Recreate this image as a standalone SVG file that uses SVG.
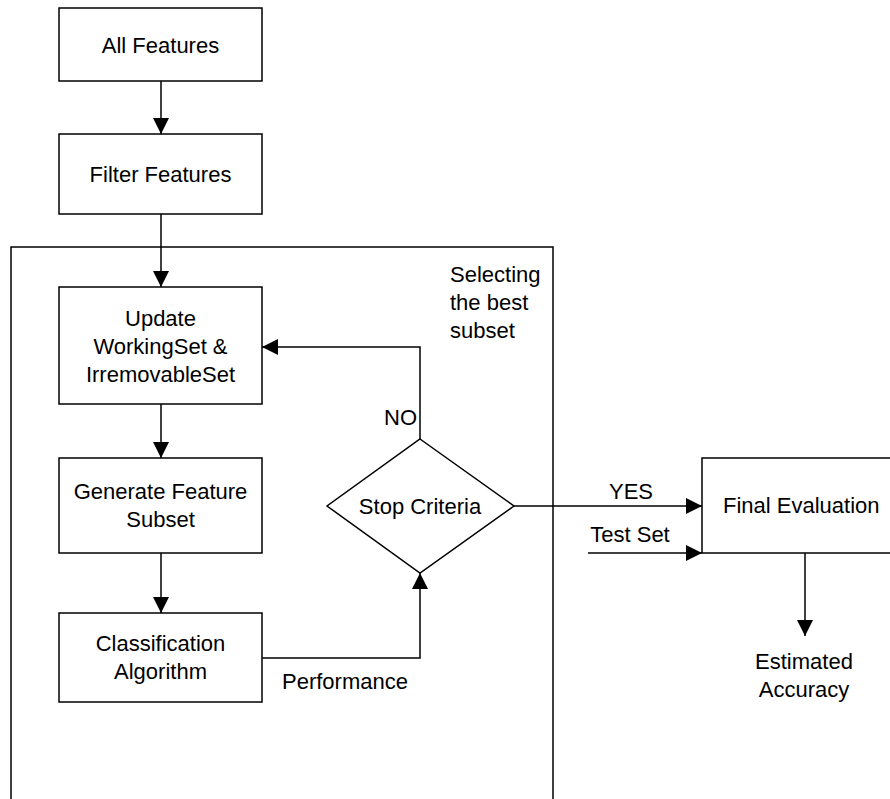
<svg xmlns="http://www.w3.org/2000/svg" width="890" height="799" viewBox="0 0 890 799">
  <style>
    .box { fill: #fff; stroke: #000; stroke-width: 1.5; }
    .frame { fill: none; stroke: #000; stroke-width: 1.5; }
    .edge { fill: none; stroke: #000; stroke-width: 1.5; }
    text { font-family: "Liberation Sans", Arial, sans-serif; font-size: 22px; fill: #000; }
    .c { text-anchor: middle; }
  </style>
  <defs>
    <marker id="arrow" markerUnits="userSpaceOnUse" markerWidth="18" markerHeight="16" refX="16" refY="8" orient="auto">
      <path d="M0,0 L16,8 L0,16 Z" fill="#000"/>
    </marker>
  </defs>
  <rect width="890" height="799" fill="#fff"/>

  <!-- loop container -->
  <g id="selection-frame">
    <path class="frame" d="M11,800 L11,247 L553,247 L553,800"/>
    <text x="450" y="282">Selecting</text>
    <text x="450" y="310">the best</text>
    <text x="450" y="338">subset</text>
  </g>

  <g id="all-features">
    <rect class="box" x="59" y="8" width="203" height="73"/>
    <text class="c" x="160.5" y="53">All Features</text>
  </g>

  <g id="filter-features">
    <rect class="box" x="59" y="134" width="203" height="80"/>
    <text class="c" x="160.5" y="182">Filter Features</text>
  </g>

  <g id="update-sets">
    <rect class="box" x="59" y="287" width="203" height="117"/>
    <text class="c" x="160.5" y="326">Update</text>
    <text class="c" x="160.5" y="354">WorkingSet &amp;</text>
    <text class="c" x="160.5" y="382">IrremovableSet</text>
  </g>

  <g id="generate-subset">
    <rect class="box" x="59" y="458" width="203" height="95"/>
    <text class="c" x="160.5" y="499">Generate Feature</text>
    <text class="c" x="160.5" y="527">Subset</text>
  </g>

  <g id="classification">
    <rect class="box" x="59" y="613" width="203" height="89"/>
    <text class="c" x="160.5" y="651">Classification</text>
    <text class="c" x="160.5" y="679">Algorithm</text>
  </g>

  <g id="stop-criteria">
    <polygon class="box" points="420,439 514,506 420,573 327,506"/>
    <text class="c" x="420" y="514">Stop Criteria</text>
  </g>

  <g id="final-evaluation">
    <rect class="box" x="702" y="458" width="195" height="95"/>
    <text x="723" y="513">Final Evaluation</text>
  </g>

  <g id="estimated-accuracy">
    <text class="c" x="804" y="669">Estimated</text>
    <text class="c" x="804" y="697">Accuracy</text>
  </g>

  <g id="connectors">
    <path class="edge" d="M161,81 L161,134" marker-end="url(#arrow)"/>
    <path class="edge" d="M161,214 L161,287" marker-end="url(#arrow)"/>
    <path class="edge" d="M161,404 L161,458" marker-end="url(#arrow)"/>
    <path class="edge" d="M161,553 L161,613" marker-end="url(#arrow)"/>
    <path class="edge" d="M262,658 L420,658 L420,573" marker-end="url(#arrow)"/>
    <path class="edge" d="M420,439 L420,347 L262,347" marker-end="url(#arrow)"/>
    <path class="edge" d="M514,506 L702,506" marker-end="url(#arrow)"/>
    <path class="edge" d="M588,553 L702,553" marker-end="url(#arrow)"/>
    <path class="edge" d="M805,553 L805,636" marker-end="url(#arrow)"/>
    <text x="282" y="689">Performance</text>
    <text x="417" y="425" text-anchor="end">NO</text>
    <text class="c" x="631" y="499">YES</text>
    <text class="c" x="630" y="542">Test Set</text>
  </g>
</svg>
